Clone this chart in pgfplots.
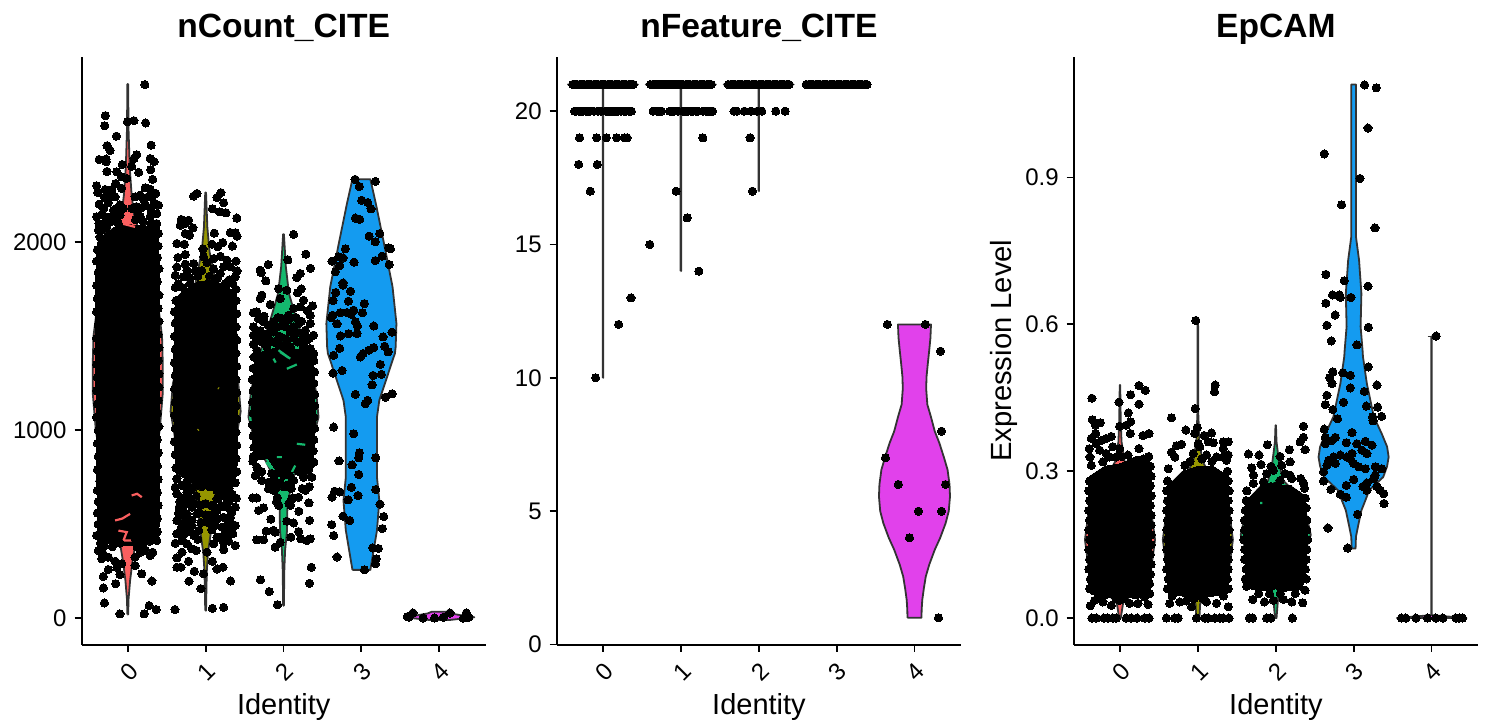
\documentclass[border=0pt]{standalone}
\usepackage{pgfplots}
\usepackage{fontspec}
\setmainfont{Liberation Sans}
\pgfplotsset{compat=1.18}
\definecolor{vl}{HTML}{333333}
\definecolor{vr}{HTML}{FA5F5F}
\definecolor{vo}{HTML}{969600}
\definecolor{vg}{HTML}{14B96E}
\definecolor{vb}{HTML}{149BF0}
\definecolor{vm}{HTML}{E141EB}
\pgfplotsset{
 panel/.style={
  scale only axis,width=202.25pt,height=293.75pt,anchor=south west,
  axis x line*=bottom,axis y line*=left,
  axis line style={line width=1pt,-},
  xmin=-0.594,xmax=4.6,xtick={0,1,2,3,4},
  tick align=outside,major tick length=3.5pt,
  every tick/.style={line width=0.9pt,black},
  xtick pos=bottom,ytick pos=left,
  /pgf/number format/assume math mode=true,
  /pgf/number format/1000 sep={},
  tick label style={font=\fontsize{12}{14}\selectfont},
  yticklabel style={xshift=-0.5pt},
  xticklabel style={rotate=45,anchor=center,xshift=-6.8pt,yshift=-7.6pt},
  xlabel={Identity},
  xlabel style={font=\fontsize{14.5}{16}\selectfont,at={(axis description cs:0.5,0)},anchor=base,yshift=-35pt},
  title style={font=\bfseries\fontsize{16.8}{18}\selectfont,at={(axis description cs:0.5,1)},anchor=base,yshift=4pt},
  clip=false,
 },
 g/.style={x filter/.expression={x+#1}},
 d/.style={only marks,mark=*,mark size=2.05pt,mark options={fill=black,draw=black,line width=0pt},black},
 v/.style={draw=vl,line width=0.9pt,fill=#1,line join=round},
 b/.style={fill=black,draw=black,line width=0pt},
 f/.style={draw=#1,line width=1.1pt,unbounded coords=jump},
}
\begin{document}
\begin{tikzpicture}
\useasboundingbox (0,0) rectangle (743pt,362.5pt);
% ---------- nCount_CITE
\begin{axis}[panel,at={(40.75pt,40.25pt)},title={nCount\_CITE},
 ymin=-140,ymax=2986,ytick={0,1000,2000}]
\addplot[v=vr] coordinates {(-.005,20)(-.01,100)(-.03,200)(-.06,300)(-.10,400)(-.17,500)(-.23,600)(-.33,800)(-.41,1000)(-.45,1200)(-.45,1350)(-.44,1500)(-.38,1700)(-.25,1900)(-.15,2050)(-.08,2150)(-.05,2250)(-.025,2400)(-.01,2600)(-.005,2842)(.005,2842)(.01,2600)(.025,2400)(.05,2250)(.08,2150)(.15,2050)(.25,1900)(.38,1700)(.44,1500)(.45,1350)(.45,1200)(.41,1000)(.33,800)(.23,600)(.17,500)(.10,400)(.06,300)(.03,200)(.01,100)(.005,20)(-.005,20)};
\addplot[v=vo,g=1] coordinates {(-.005,40)(-.01,150)(-.015,250)(-.03,350)(-.065,450)(-.09,550)(-.12,650)(-.2,750)(-.28,850)(-.39,950)(-.45,1100)(-.42,1250)(-.33,1400)(-.25,1550)(-.17,1700)(-.1,1850)(-.05,1950)(-.022,2080)(-.005,2265)(.005,2265)(.022,2080)(.05,1950)(.1,1850)(.17,1700)(.25,1550)(.33,1400)(.42,1250)(.45,1100)(.39,950)(.28,850)(.2,750)(.12,650)(.09,550)(.065,450)(.03,350)(.015,250)(.01,150)(.005,40)(-.005,40)};
\addplot[v=vg,g=2] coordinates {(-.005,67)(-.01,250)(-.02,360)(-.045,466)(-.05,591)(-.07,644)(-.12,745)(-.22,830)(-.36,930)(-.45,1070)(-.42,1200)(-.37,1300)(-.27,1461)(-.17,1585)(-.07,1727)(-.03,1870)(-.005,2043)(.005,2043)(.03,1870)(.07,1727)(.17,1585)(.27,1461)(.37,1300)(.42,1200)(.45,1070)(.36,930)(.22,830)(.12,745)(.07,644)(.05,591)(.045,466)(.02,360)(.01,250)(.005,67)(-.005,67)};
\addplot[v=vb,g=3] coordinates {(-.115,257)(-.2,467)(-.23,626)(-.2,750)(-.2,892)(-.2,1070)(-.23,1159)(-.315,1265)(-.40,1372)(-.43,1408)(-.44,1443)(-.45,1568)(-.40,1763)(-.29,1994)(-.185,2207)(-.115,2336)(.115,2336)(.185,2207)(.29,1994)(.40,1763)(.45,1568)(.44,1443)(.43,1408)(.40,1372)(.315,1265)(.23,1159)(.2,1070)(.2,892)(.2,750)(.23,626)(.2,467)(.115,257)(-.115,257)};
\addplot[v=vm,g=4] coordinates {(-.12,-10)(-.45,5)(-.33,12)(-.15,25)(-.1,34)(.1,34)(.15,25)(.33,12)(.45,5)(.12,-10)(-.12,-10)};
% dense regions of overplotted points
\addplot[b] coordinates {(-.39,2000)(-.3,2040)(-.2,2075)(-.05,2095)(.15,2090)(.3,2085)(.39,2040)(.41,1800)(.41,1300)(.41,800)(.40,450)(.25,395)(.1,390)(-.05,385)(-.2,395)(-.38,400)(-.40,800)(-.41,1300)(-.41,1800)(-.39,2000)};
\addplot[b,g=1] coordinates {(-.39,1700)(-.3,1740)(-.1,1790)(.1,1800)(.3,1760)(.39,1720)(.41,1400)(.41,1100)(.41,950)(.40,760)(.3,700)(.1,690)(-.1,690)(-.2,730)(-.38,770)(-.40,950)(-.41,1100)(-.41,1400)(-.39,1700)};
\addplot[b,g=2] coordinates {(-.37,1400)(-.2,1430)(0,1440)(.2,1430)(.37,1450)(.39,1300)(.41,1070)(.40,950)(.38,800)(.3,760)(.1,780)(0,770)(-.1,790)(-.2,850)(-.36,840)(-.40,950)(-.41,1070)(-.39,1300)(-.37,1400)};
\addplot[f=vr] coordinates {(.05,653)(.12,662)(.18,644)(0,nan)(-.163,520)(-.07,530)(.03,555)(0,nan)(-.12,466)(-.013,458)(-.056,413)(.051,413)(0,nan)(-.077,2100)(.094,2082)};
\addplot[f=vo,g=1] coordinates {(-.1,1000)(-.09,1004)(0,nan)(.16,1225)(.17,1222)(0,nan)(-.41,1230)(-.40,1222)};
\addplot[f=vg,g=2] coordinates {(-.043,1416)(.064,1386)(0,nan)(.043,1327)(.171,1350)(0,nan)(-.129,1381)(-.1,1360)(0,nan)(-.429,1070)(-.407,1017)(0,nan)(.171,928)(.279,923)(0,nan)(-.086,857)(-.021,857)(0,nan)(-.223,830)(-.129,782)(-.043,750)(.064,742)(.15,812)(0,nan)(-.171,1506)(.086,1506)(0,nan)(-.064,1426)(.086,1381)};
% points
\addplot[d] coordinates {(.22,2839)(-.287,2674)(-.296,2620)(-.004,2642)(.08,2647)(.23,2635)(-.146,2565)(.30,2517)(-.266,2514)(-.227,2489)(-.368,2441)(-.278,2443)(-.278,2429)(.116,2466)(.08,2445)(.287,2446)(.338,2429)(.296,2386)(-.266,2377)(-.069,2414)(.05,2405)(-.14,2375)(-.08,2349)(-.013,2340)(.14,2372)(.32,2335)(-.4,2301)(-.386,2265)(-.154,2313)(-.29,2281)(-.205,2281)(-.08,2287)(.223,2290)(.287,2283)(.36,2260)(-.227,2242)(-.163,2242)(.094,2242)(.158,2251)(.31,2246)(-.368,2203)(.394,2198)(.35,2207)(-.31,2180)(-.4,2136)(.18,2185)(.223,2194)(.05,2180)(-.184,2171)(-.14,2180)(-.056,2180)(.373,2153)(-.29,2136)(-.206,2136)(-.1,2145)(.16,2136)(.287,2136)(.37,2100)(-.31,2100)(-.377,2065)(-.356,2029)(.394,2047)(-.27,2082)
(-.3,2070)(-.22,2110)(-.12,2100)(.1,2120)(.2,2110)(.3,2100)(.36,2080)(-.37,2100)(-.33,2150)(-.15,2140)(.13,2160)(.3,2170)(.33,2200)(-.25,2210)(-.1,2200)(-.3,2240)(.2,2230)(.25,2240)(.11,2190)
(-.39,1960)(-.40,1900)(-.38,1840)(-.40,1770)(-.39,1700)(-.40,1630)(-.38,1560)(-.40,1490)(-.39,1420)(-.40,1350)(-.39,1280)(-.40,1210)(-.39,1140)(-.40,1070)(-.38,1000)(-.39,930)(-.38,860)(-.39,790)(-.36,730)(-.39,680)(-.38,620)(-.39,560)(-.38,500)(-.39,440)(-.35,400)
(.39,1980)(.38,1920)(.40,1860)(.38,1790)(.40,1720)(.39,1650)(.40,1580)(.39,1510)(.40,1440)(.39,1370)(.40,1300)(.40,1230)(.39,1160)(.38,1090)(.40,1020)(.38,950)(.39,880)(.38,810)(.39,740)(.38,670)(.39,600)(.38,530)(.38,460)(.36,420)
(-.377,360)(-.334,316)(-.25,325)(-.163,303)(-.25,259)(-.313,222)(-.313,161)(-.154,183)(-.3,81)(-.1,23)(.21,23)(.274,67)(.364,46)(.31,198)(.18,236)(.094,280)(-.1,232)(-.14,271)(.16,351)(.287,333)(.223,360)(.32,351)(-.077,289)(.094,325)(.2,378)(.373,413)(-.4,440)(-.3,385)(-.2,380)(-.1,400)(.1,420)(.28,410)(-.32,345)(.12,380)};
\addplot[d,g=1] coordinates {(-.154,2246)(-.111,2260)(.197,2264)(.146,2239)(.231,2210)(.086,2178)(.176,2162)(.261,2157)(.4,2129)(-.313,2122)(-.219,2118)(-.261,2100)(-.163,2077)(-.326,2091)(-.261,2047)(-.206,2038)(.111,2049)(.317,2052)(.381,2051)(.403,2033)(-.369,1994)(-.274,1990)(.219,1999)(.154,1976)(.081,1990)(.343,1980)(-.034,1965)(-.261,1935)(-.356,1919)(.189,1926)(.103,1914)(.274,1905)(.39,1900)(-.026,1923)(-.154,1887)(-.261,1884)(-.369,1869)(.017,1893)(.403,1848)(.317,1870)(.231,1870)(-.24,1852)(-.133,1848)(-.39,1825)(.38,1816)(.189,1834)(-.283,1816)(-.39,1760)(.39,1750)(-.2,1780)(.25,1780)
(-.35,1780)(-.3,1760)(-.2,1810)(-.1,1820)(.05,1820)(.15,1810)(.3,1800)(.35,1780)(-.05,1850)(.1,1860)(.1,1760)
(-.38,1690)(-.40,1630)(-.39,1570)(-.40,1500)(-.39,1430)(-.40,1360)(-.39,1290)(-.40,1220)(-.39,1150)(-.40,1080)(-.39,1010)(-.40,940)(-.39,870)(-.38,800)
(.39,1690)(.40,1620)(.39,1550)(.40,1480)(.39,1410)(.40,1340)(.39,1270)(.40,1200)(.39,1130)(.40,1060)(.39,990)(.40,920)(.39,850)(.40,780)(.38,720)
(-.369,742)(-.39,697)(-.304,706)(-.369,662)(-.24,671)(-.154,697)(.146,680)(.253,671)(.394,639)(.274,635)(.146,635)(-.09,605)(-.197,635)(-.304,626)(-.176,591)(.274,591)(.381,591)(.189,591)(.146,573)(-.347,559)(-.369,520)(-.24,555)(-.111,555)(-.176,520)(.06,511)(.146,529)(.231,537)(.317,537)(.381,493)(.296,502)(.21,484)(.124,493)(-.09,467)(-.176,493)(-.369,449)(-.283,445)(-.39,399)(-.304,413)(-.24,396)(-.12,360)(-.176,369)(-.304,351)(-.369,321)(-.369,271)(-.317,271)(-.219,303)(-.146,250)(-.214,197)(-.06,157)(-.026,236)(.086,303)(.146,262)(.223,271)(.321,198)(-.394,46)(.086,53)(.231,58)(.231,365)(.296,410)(.381,387)(.231,404)(.103,396)(.146,431)(.017,351)(-.25,720)(.2,650)(.3,690)(.34,660)(-.3,500)(-.25,480)(.25,450)(.35,450)(-.33,620)(-.3,590)
(-.07,600)(0,610)(.07,600)(-.08,560)(0,550)(.08,550)(-.06,510)(.02,510)(-.12,650)(.1,600)(-.2,680)(-.15,610)(.2,600)(.3,620)(.33,560)(-.28,540)(-.2,460)(.3,470)(.08,470)(-.1,420)(-.25,520)(.18,430)(-.15,440)(.26,530)(.34,500)(-.32,470)(-.05,700)(.05,700)(-.28,640)(-.34,590)(-.24,610)(.25,700)(.32,650)};
\addplot[d,g=2] coordinates {(.129,2042)(.287,1937)(.056,1907)(-.197,1882)(-.3,1852)(-.287,1838)(.347,1862)(.214,1834)(.171,1813)(-.227,1795)(.227,1752)(-.064,1754)(.043,1745)(.18,1731)(-.043,1701)(-.279,1719)(-.3,1701)(.257,1692)(-.171,1669)(.373,1662)(.214,1657)(.129,1648)(.308,1635)(-.386,1626)(-.343,1630)(-.249,1607)(-.321,1594)(.343,1612)(.064,1612)(-.021,1594)(-.129,1577)(-.257,1577)(.343,1568)(.193,1568)(-.386,1550)(-.343,1532)(-.086,1550)(.129,1550)(.386,1506)(.279,1532)(.257,1497)(-.386,1506)(-.257,1514)(-.129,1523)(.086,1523)(-.386,1458)(-.279,1470)(.386,1408)(.343,1435)(.257,1444)(.086,1444)(-.343,1426)(-.214,1444)(-.086,1461)(.18,1470)(-.18,1480)(-.32,1490)
(-.05,1500)(0,1490)(.05,1480)(-.12,1470)(.13,1490)(-.02,1560)(.03,1550)(.07,1590)(-.07,1600)(0,1450)(-.15,1530)(.18,1520)(.23,1580)(-.2,1560)(.16,1600)(-.22,1500)(.22,1470)(.3,1480)(.33,1490)(-.3,1530)
(-.38,1390)(-.39,1330)(-.40,1270)(-.39,1210)(-.40,1150)(-.39,1090)(-.40,1030)(-.39,970)(-.38,910)(-.39,860)
(.39,1370)(.40,1310)(.39,1250)(.40,1190)(.40,1130)(.39,1070)(.40,1010)(.39,950)(.38,890)(.39,830)
(-.394,836)(-.343,804)(-.364,759)(-.279,733)(-.193,724)(.364,750)(.257,750)(.129,733)(.279,680)(.193,644)(.107,635)(-.394,640)(-.343,640)(-.257,587)(-.321,573)(.326,614)(.197,569)(-.163,527)(.334,520)(.043,516)(.129,507)(.193,461)(-.223,463)(-.129,467)(-.107,458)(.094,431)(-.343,417)(-.257,417)(.223,422)(.3,413)(.343,422)(-.043,404)(-.107,378)(.356,271)(.334,186)(-.296,204)(-.184,142)(-.077,72)(-.193,688)(-.129,680)(-.28,780)(-.15,770)(.2,780)(.32,790)(.05,700)(.1,690)(-.09,720)(.33,700)(.24,690)
(-.1,770)(0,760)(.08,760)(-.04,720)(.06,710)(-.12,740)(0,700)(-.1,690)(.12,640)(-.08,640)(-.06,600)(.07,610)(-.09,620)(.09,600)};
\addplot[d,g=3] coordinates {(-.081,2335)(.18,2324)(-.026,2297)(.004,2224)(.081,2212)(.124,2178)(-.077,2129)(-.021,2122)(.099,2033)(.236,2047)(.176,2003)(-.206,1965)(.351,1971)(.373,1965)(.266,1926)(.18,1903)(-.094,1894)(.356,1882)(-.377,1900)(-.291,1923)(-.236,1917)(-.279,1875)(-.334,1843)(-.236,1784)(-.236,1772)(-.141,1740)(-.33,1733)(-.364,1690)(-.167,1687)(.039,1674)(-.27,1626)(-.184,1626)(-.133,1617)(-.099,1639)(.013,1625)(-.368,1612)(-.386,1598)(-.313,1566)(-.077,1577)(-.051,1555)(.159,1555)(-.27,1502)(-.163,1514)(-.056,1514)(.394,1522)(.278,1497)(-.279,1436)(.3,1447)(.343,1417)(.159,1440)(.094,1426)(.021,1408)(-.356,1399)(-.013,1390)(.244,1350)(-.248,1318)(-.364,1304)(.15,1292)(.257,1297)(.137,1242)(.394,1194)(.308,1176)(-.077,1191)(.081,1159)(.051,1141)(-.356,1017)(-.099,981)(-.026,880)(-.034,853)(.184,853)(-.287,837)(-.12,816)(-.034,765)(-.129,697)(.184,685)(-.343,676)(-.278,672)(-.377,644)(-.043,653)(-.171,630)(.24,607)(.287,541)(-.236,543)(-.15,520)(-.381,498)(-.356,440)(.27,477)(-.313,326)(.146,374)(.219,371)(.189,316)(.18,289)(.039,257)};
\addplot[d,g=4] coordinates {(-.338,28)(-.39,5)(-.206,1)(-.06,1)(.051,5)(.137,28)(.308,0)(.347,28)(.351,5)(.38,5)(-.41,8)};
\end{axis}
% ---------- nFeature_CITE
\begin{axis}[panel,at={(278.35pt,40.25pt)},title={nFeature\_CITE},
 ymin=0,ymax=22.03,ytick={0,5,10,15,20}]
\addplot[v=vr] coordinates {(-.004,10)(-.004,20.88)(-.45,21)(.45,21)(.004,20.88)(.004,10)(-.004,10)};
\addplot[v=vo,g=1] coordinates {(-.004,14)(-.004,20.88)(-.45,21)(.45,21)(.004,20.88)(.004,14)(-.004,14)};
\addplot[v=vg,g=2] coordinates {(-.004,17)(-.004,20.88)(-.45,21)(.45,21)(.004,20.88)(.004,17)(-.004,17)};
\addplot[v=vb,g=3] coordinates {(-.45,21)(.45,21)};
\addplot[v=vm,g=4] coordinates {(-.09,1)(-.092,1.3)(-.10,1.67)(-.12,2.1)(-.145,2.55)(-.19,3)(-.26,3.55)(-.33,4)(-.40,4.55)(-.44,5)(-.456,5.55)(-.45,6)(-.425,6.55)(-.38,7)(-.32,7.55)(-.26,8)(-.21,8.55)(-.165,9)(-.15,9.6)(-.155,10.05)(-.17,10.5)(-.19,11.05)(-.205,11.5)(-.212,12)(.212,12)(.205,11.5)(.19,11.05)(.17,10.5)(.155,10.05)(.15,9.6)(.165,9)(.21,8.55)(.26,8)(.32,7.55)(.38,7)(.425,6.55)(.45,6)(.456,5.55)(.44,5)(.40,4.55)(.33,4)(.26,3.55)(.19,3)(.145,2.55)(.12,2.1)(.10,1.67)(.092,1.3)(.09,1)(-.09,1)};
\addplot[d] coordinates {(-.39,21)(-.36,21)(-.33,21)(-.30,21)(-.27,21)(-.24,21)(-.21,21)(-.18,21)(-.15,21)(-.12,21)(-.09,21)(-.06,21)(-.03,21)(0,21)(.03,21)(.06,21)(.09,21)(.12,21)(.15,21)(.18,21)(.21,21)(.24,21)(.27,21)(.30,21)(.33,21)(.36,21)(.39,21)
(-.364,20)(-.309,20)(-.257,20)(-.214,20)(-.163,20)(-.12,20)(-.021,20)(.034,20)(.086,20)(.137,20)(.193,20)(.236,20)(.291,20)(.364,20)(-.343,20)(-.28,20)(-.19,20)(-.06,20)(.06,20)(.11,20)(.165,20)(.27,20)(.33,20)
(-.30,19)(-.081,19)(.043,19)(.176,19)(.279,19)(.309,19)(-.313,18)(-.073,18)(-.163,17)(.36,13)(.2,12)(-.094,10)};
\addplot[d,g=1] coordinates {(-.39,21)(-.36,21)(-.33,21)(-.30,21)(-.27,21)(-.24,21)(-.21,21)(-.18,21)(-.15,21)(-.12,21)(-.09,21)(-.06,21)(-.03,21)(0,21)(.03,21)(.06,21)(.09,21)(.12,21)(.15,21)(.18,21)(.21,21)(.24,21)(.27,21)(.30,21)(.33,21)(.36,21)(.39,21)
(-.356,20)(-.304,20)(-.249,20)(-.141,20)(-.09,20)(-.034,20)(.03,20)(.094,20)(.159,20)(.223,20)(.287,20)(.351,20)(.407,20)(-.28,20)(-.11,20)(.06,20)(.125,20)(.19,20)(.32,20)(.38,20)
(.283,19)(-.06,17)(.081,16)(-.398,15)(.231,14)};
\addplot[d,g=2] coordinates {(-.39,21)(-.36,21)(-.33,21)(-.30,21)(-.27,21)(-.24,21)(-.21,21)(-.18,21)(-.15,21)(-.12,21)(-.09,21)(-.06,21)(-.03,21)(0,21)(.03,21)(.06,21)(.09,21)(.12,21)(.15,21)(.18,21)(.21,21)(.24,21)(.27,21)(.30,21)(.33,21)(.36,21)(.39,21)
(-.317,20)(-.283,20)(-.184,20)(-.099,20)(-.017,20)(.039,20)(.219,20)(.339,20)(-.111,19)(-.081,17)};
\addplot[d,g=3] coordinates {(-.39,21)(-.36,21)(-.33,21)(-.30,21)(-.27,21)(-.24,21)(-.21,21)(-.18,21)(-.15,21)(-.12,21)(-.09,21)(-.06,21)(-.03,21)(0,21)(.03,21)(.06,21)(.09,21)(.12,21)(.15,21)(.18,21)(.21,21)(.24,21)(.27,21)(.30,21)(.33,21)(.36,21)(.39,21)};
\addplot[d] coordinates {(3.653,12)(4.141,12)(4.334,11)(4.347,8)(3.627,7)(3.794,6)(4.398,6)(4.051,5)(4.347,5)(3.936,4)(4.308,1)};
\end{axis}
% ---------- EpCAM
\begin{axis}[panel,at={(536.85pt,40.25pt)},title={EpCAM},
 ymin=-0.054,ymax=1.146,ytick={0,0.3,0.6,0.9},
 yticklabel style={/pgf/number format/fixed,/pgf/number format/fixed zerofill,/pgf/number format/precision=1},
 ylabel={Expression Level},
 ylabel style={font=\fontsize{14.6}{16}\selectfont,at={(axis description cs:0,0.5)},anchor=base,yshift=31pt}]
\addplot[v=vr] coordinates {(-.01,0)(-.04,.03)(-.22,.06)(-.4,.1)(-.45,.16)(-.4,.22)(-.2,.28)(-.06,.32)(-.02,.36)(-.01,.4)(-.003,.476)(.003,.476)(.01,.4)(.02,.36)(.06,.32)(.2,.28)(.4,.22)(.45,.16)(.4,.1)(.22,.06)(.04,.03)(.01,0)(-.01,0)};
\addplot[v=vo,g=1] coordinates {(-.02,0)(-.03,.03)(-.2,.06)(-.4,.1)(-.45,.16)(-.4,.22)(-.2,.28)(-.06,.32)(-.02,.36)(-.005,.42)(-.003,.608)(.003,.608)(.005,.42)(.02,.36)(.06,.32)(.2,.28)(.4,.22)(.45,.16)(.4,.1)(.2,.06)(.03,.03)(.02,0)(-.02,0)};
\addplot[v=vg,g=2] coordinates {(-.01,0)(-.03,.04)(-.1,.06)(-.3,.1)(-.45,.17)(-.35,.24)(-.1,.28)(-.05,.31)(-.01,.36)(-.003,.394)(.003,.394)(.01,.36)(.05,.31)(.1,.28)(.35,.24)(.45,.17)(.3,.1)(.1,.06)(.03,.04)(.01,0)(-.01,0)};
\addplot[v=vb,g=3] coordinates {(-.025,.142)(-.03,.166)(-.06,.19)(-.1,.22)(-.15,.24)(-.2,.261)(-.38,.288)(-.43,.31)(-.45,.329)(-.43,.35)(-.36,.377)(-.26,.411)(-.17,.479)(-.12,.534)(-.115,.547)(-.09,.595)(-.1,.663)(-.07,.731)(-.03,.779)(-.03,1.09)(.03,1.09)(.03,.779)(.07,.731)(.1,.663)(.09,.595)(.115,.547)(.12,.534)(.17,.479)(.26,.411)(.36,.377)(.43,.35)(.45,.329)(.43,.31)(.38,.288)(.2,.261)(.15,.24)(.1,.22)(.06,.19)(.03,.166)(.025,.142)(-.025,.142)};
\addplot[v=vm,g=4] coordinates {(-.45,0)(-.003,.006)(-.003,.575)(.003,.575)(.003,.006)(.45,0)(-.45,0)};
\addplot[draw=vl,line width=0.9pt,g=4] coordinates {(-.05,.575)(0,.575)};
\addplot[b] coordinates {(-.39,.29)(-.2,.31)(0,.315)(.2,.33)(.38,.33)(.41,.25)(.41,.17)(.41,.08)(.38,.045)(.2,.04)(0,.045)(-.2,.04)(-.38,.05)(-.41,.08)(-.41,.17)(-.41,.25)(-.39,.29)};
\addplot[b,g=1] coordinates {(-.39,.27)(-.2,.3)(0,.31)(.2,.31)(.39,.29)(.41,.2)(.41,.1)(.38,.05)(.2,.045)(0,.04)(-.2,.045)(-.38,.05)(-.41,.1)(-.41,.2)(-.39,.27)};
\addplot[b,g=2] coordinates {(-.38,.24)(-.2,.27)(0,.28)(.1,.27)(.2,.27)(.38,.25)(.41,.17)(.39,.1)(.34,.06)(.12,.055)(0,.06)(-.1,.055)(-.34,.06)(-.39,.1)(-.41,.17)(-.38,.24)};
\addplot[f=vg,g=2] coordinates {(-.437,.196)(-.373,.196)(0,nan)(-.094,.055)(.077,.055)(0,nan)(-.05,.278)(.05,.285)(0,nan)(-.2,.235)(-.17,.235)};
\addplot[d] coordinates {(-.36,.449)(-.013,.441)(.137,.456)(.244,.475)(.326,.465)(.244,.437)(.107,.419)(-.356,.405)(-.253,.399)(-.313,.394)(-.004,.392)(.137,.401)(.081,.394)(.133,.377)(.373,.377)(.296,.373)(-.313,.377)(-.368,.367)(-.111,.371)(-.176,.367)(-.24,.363)(-.304,.356)(-.394,.346)(-.09,.35)(-.004,.346)(.244,.346)(-.261,.343)(-.386,.329)(-.176,.336)(.103,.333)(-.368,.312)(-.219,.319)(-.133,.329)(-.047,.329)(.02,.33)(.3,.325)(.37,.33)
(-.39,.28)(-.40,.26)(-.39,.24)(-.40,.22)(-.39,.20)(-.40,.18)(-.39,.16)(-.40,.14)(-.39,.12)(-.40,.10)(-.38,.08)(-.39,.06)
(.39,.31)(.40,.29)(.39,.27)(.40,.25)(.39,.23)(.40,.21)(.40,.19)(.40,.17)(.40,.15)(.39,.13)(.40,.11)(.39,.09)(.38,.07)(.38,.05)
(-.381,.025)(-.326,.036)(-.111,.026)(.36,.028)(.231,.03)(.124,.03)(-.004,.036)(-.219,.033)(.317,.043)(-.26,.04)(.05,.04)(-.05,.04)
(-.36,0)(-.304,0)(-.206,0)(-.154,0)(-.09,0)(-.047,0)(.081,0)(.146,0)(.219,0)(.317,0)(.373,0)};
\addplot[d,g=1] coordinates {(-.026,.608)(.223,.476)(.214,.462)(-.034,.428)(-.338,.409)(-.009,.389)(-.154,.384)(-.039,.377)(.176,.378)(.081,.373)(.133,.36)(.197,.358)(.39,.36)(.326,.36)(.004,.356)(-.21,.355)(-.274,.352)(.326,.346)(.026,.35)(-.338,.339)(-.06,.336)(.39,.333)(-.296,.329)(.24,.329)(.111,.333)(.326,.329)(-.381,.305)(-.167,.312)(.368,.322)(-.1,.32)(.05,.325)(.18,.32)
(-.39,.28)(-.40,.26)(-.39,.24)(-.40,.22)(-.39,.20)(-.40,.18)(-.39,.16)(-.40,.14)(-.39,.12)(-.40,.10)(-.38,.08)(-.39,.06)
(.38,.30)(.39,.28)(.40,.26)(.39,.24)(.40,.22)(.39,.20)(.40,.18)(.39,.16)(.40,.14)(.39,.12)(.39,.10)(.38,.08)(.39,.06)
(.39,.023)(-.36,.03)(-.081,.023)(.24,.03)(-.231,.033)(.111,.033)(-.33,.045)(.33,.045)(-.05,.04)(.06,.04)(-.15,.035)
(-.403,0)(-.296,0)(-.253,0)(-.017,0)(.09,0)(.133,0)(.219,0)(.283,0)(.326,0)(.399,0)};
\addplot[d,g=2] coordinates {(.356,.392)(-.107,.354)(-.351,.335)(-.214,.333)(.356,.369)(.313,.36)(.377,.344)(.176,.344)(.056,.33)(.184,.319)(-.189,.314)(-.309,.307)(.077,.312)(-.03,.302)(-.287,.292)(.184,.292)(-.116,.295)(.206,.285)(.356,.276)(-.159,.278)(-.287,.275)(.056,.281)(.32,.285)(-.06,.31)(.12,.295)
(-.37,.26)(-.38,.24)(-.39,.22)(-.40,.20)(-.40,.18)(-.41,.16)(-.40,.14)(-.40,.12)(-.38,.10)(-.39,.08)
(.37,.265)(.38,.245)(.39,.225)(.40,.20)(.40,.18)(.41,.16)(.40,.14)(.39,.12)(.38,.10)(.39,.08)
(-.296,.038)(-.146,.033)(.099,.038)(.206,.033)(.347,.031)(-.03,.036)(-.373,.065)(.377,.057)(-.22,.05)(.25,.05)(-.08,.05)(.06,.05)
(-.339,0)(-.296,0)(-.116,0)(-.064,0)(.214,0)};
\addplot[d,g=3] coordinates {(.141,1.089)(.291,1.083)(.184,1.001)(-.377,.948)(.081,.898)(-.154,.844)(.274,.797)(-.356,.702)(-.12,.689)(.184,.678)(-.27,.66)(-.18,.66)(-.171,.655)(-.034,.655)(-.356,.643)(-.236,.619)(-.343,.598)(.189,.594)(-.287,.566)(.043,.558)(.189,.513)(-.137,.501)(-.266,.503)(-.308,.491)(-.043,.496)(-.278,.479)(.3,.476)(-.043,.47)(.137,.463)(-.343,.455)(-.364,.436)(-.129,.441)(.163,.433)(.309,.431)(-.266,.426)(-.206,.407)(.244,.411)(.36,.412)(.249,.403)(-.377,.386)(-.021,.379)(-.364,.369)(-.236,.369)(-.094,.358)(-.364,.356)(-.278,.363)(.043,.356)(.15,.361)(.107,.343)(.236,.353)(.171,.336)(-.021,.336)(-.086,.329)(-.257,.329)(-.321,.322)(-.171,.333)(-.043,.326)(0,.316)(-.236,.316)(-.343,.312)(.064,.309)(.15,.305)(.278,.309)(.364,.305)(.278,.292)(-.386,.299)(.257,.285)(-.386,.28)(0,.283)(-.094,.271)(.171,.276)(.12,.269)(.171,.261)(.3,.269)(.343,.261)(.386,.254)(-.291,.263)(-.171,.253)(-.094,.247)(.39,.234)(.051,.212)(-.33,.184)(-.077,.143)};
\addplot[d,g=4] coordinates {(-.386,0)(-.33,0)(-.2,0)(-.051,0)(.056,0)(.146,0)(.313,0)(.356,0)(.399,0)(.06,.576)};
\end{axis}
\end{tikzpicture}
\end{document}
